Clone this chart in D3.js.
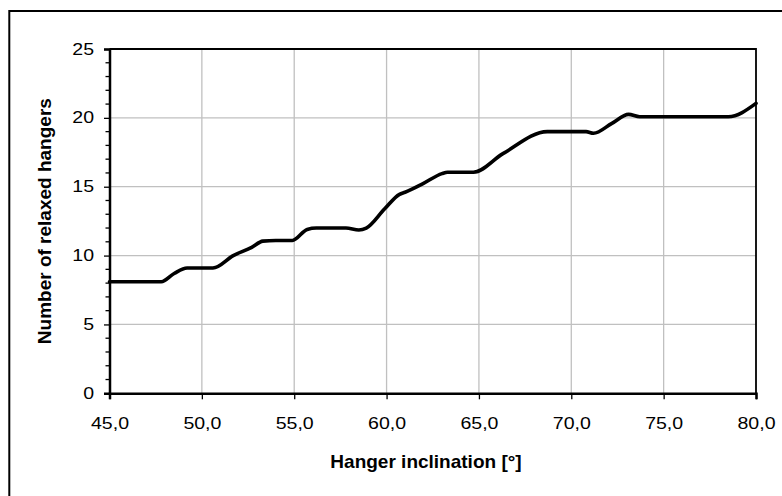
<!DOCTYPE html>
<html>
<head>
<meta charset="utf-8">
<script src="https://cdn.jsdelivr.net/npm/d3@7/dist/d3.min.js"></script>
<style>
  html, body { margin: 0; padding: 0; background: #fff; overflow: hidden; }
  svg { display: block; }
  text { font-family: "Liberation Sans", Arial, sans-serif; fill: #000; }
</style>
</head>
<body>
<svg id="chart" width="782" height="496"></svg>
<script>
// Data
const inclination = [45, 46, 47, 47.8, 48.5, 49.2, 50, 50.6, 51.7, 52.7, 53.3, 54, 54.9, 55.7, 56.2, 57, 57.8, 58.5, 58.9, 59.9, 60.7, 61.0, 62.0, 63.0, 63.3, 64, 64.7, 66.3, 68.7, 69.5, 70.8, 71.2, 72.2, 73.1, 73.7, 75, 76, 77, 78.5, 80];
const relaxed     = [8.1, 8.1, 8.1, 8.1, 8.7, 9.1, 9.1, 9.1, 10.0, 10.6, 11.05, 11.1, 11.1, 11.9, 12.0, 12.0, 12.0, 11.86, 12.0, 13.4, 14.45, 14.6, 15.25, 15.95, 16.05, 16.05, 16.05, 17.4, 19.0, 19.0, 19.0, 18.88, 19.6, 20.25, 20.08, 20.08, 20.08, 20.08, 20.08, 21.05];
const xTicks = [45, 50, 55, 60, 65, 70, 75, 80];
const yTicks = [0, 5, 10, 15, 20, 25];
const yMinorTicks = d3.range(0, 26, 1);
const xTitle = "Hanger inclination [°]";
const yTitle = "Number of relaxed hangers";

const svg = d3.select("#chart");
const plot = { left: 109.5, right: 756, top: 49, bottom: 393.3 };

const x = d3.scaleLinear().domain([45, 80]).range([plot.left, plot.right]);
const y = d3.scaleLinear().domain([0, 25]).range([plot.bottom, plot.top]);

// outer chart frame (only top and left visible in view)
svg.append("rect")
  .attr("x", 9.3).attr("y", 11)
  .attr("width", 820).attr("height", 520)
  .attr("fill", "none").attr("stroke", "#000").attr("stroke-width", 2);

// gridlines
const grid = svg.append("g");
grid.selectAll("line.gx").data(xTicks.slice(1, -1)).join("line")
  .attr("x1", d => x(d)).attr("x2", d => x(d))
  .attr("y1", plot.top).attr("y2", plot.bottom)
  .attr("stroke", "#c0c0c0").attr("stroke-width", 1.3);
grid.selectAll("line.gy").data(yTicks.slice(1, -1)).join("line")
  .attr("x1", plot.left).attr("x2", plot.right)
  .attr("y1", d => y(d)).attr("y2", d => y(d))
  .attr("stroke", "#c0c0c0").attr("stroke-width", 1.3);

// plot border (top and right)
svg.append("path")
  .attr("d", `M${plot.left},${plot.top}H${plot.right}V${plot.bottom}`)
  .attr("fill", "none").attr("stroke", "#000").attr("stroke-width", 1.8);

// minor y ticks
svg.append("g").selectAll("line").data(yMinorTicks.filter(d => d % 5 !== 0)).join("line")
  .attr("x1", plot.left - 4).attr("x2", plot.left)
  .attr("y1", d => y(d)).attr("y2", d => y(d))
  .attr("stroke", "#000").attr("stroke-width", 1.3);

const stretch = (sel, k) => sel.each(function () {
  const len = this.getComputedTextLength();
  d3.select(this).attr("textLength", len * k).attr("lengthAdjust", "spacingAndGlyphs");
});

// y axis
const yAxis = svg.append("g")
  .attr("transform", `translate(${plot.left},0)`)
  .call(d3.axisLeft(y).tickValues(yTicks).tickSize(5.5).tickPadding(10).tickFormat(d3.format("d")));
yAxis.select(".domain").attr("stroke", "#000").attr("stroke-width", 2.5);
yAxis.selectAll(".tick line").attr("stroke", "#000").attr("stroke-width", 1.3);
yAxis.selectAll(".tick text")
  .style("font-size", "16px").style("font-family", "Liberation Sans, Arial, sans-serif")
  .call(stretch, 1.22);

// x axis
const fmtX = d => d3.format(".1f")(d).replace(".", ",");
const xAxis = svg.append("g")
  .attr("transform", `translate(0,${plot.bottom})`)
  .call(d3.axisBottom(x).tickValues(xTicks).tickSize(6).tickPadding(30).tickFormat(fmtX));
xAxis.select(".domain").attr("stroke", "#000").attr("stroke-width", 2.5);
xAxis.selectAll(".tick line").attr("stroke", "#000").attr("stroke-width", 1.3);
xAxis.selectAll(".tick text")
  .attr("dy", null)
  .style("font-size", "16px").style("font-family", "Liberation Sans, Arial, sans-serif")
  .call(stretch, 1.22);

// data line
const line = d3.line()
  .x((d, i) => x(inclination[i]))
  .y(d => y(d))
  .curve(d3.curveMonotoneX);
svg.append("path")
  .datum(relaxed)
  .attr("d", line)
  .attr("fill", "none")
  .attr("stroke", "#000")
  .attr("stroke-width", 3.6)
  .attr("stroke-linejoin", "round")
  .attr("stroke-linecap", "round");

// titles
svg.append("text")
  .attr("x", 426).attr("y", 467.5)
  .attr("text-anchor", "middle")
  .style("font-size", "19px").style("font-weight", "bold")
  .text(xTitle);
svg.append("text")
  .attr("transform", `translate(51,${(plot.top + plot.bottom) / 2}) rotate(-90)`)
  .attr("text-anchor", "middle")
  .style("font-size", "19px").style("font-weight", "bold")
  .text(yTitle);
</script>
</body>
</html>
